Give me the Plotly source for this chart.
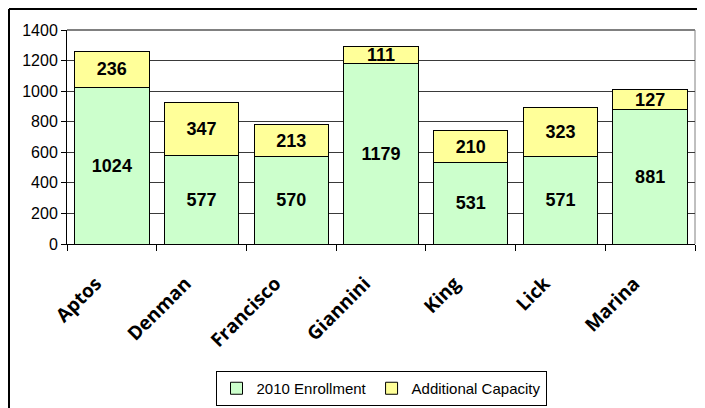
import plotly.graph_objects as go

schools = ["Aptos", "Denman", "Francisco", "Giannini", "King", "Lick", "Marina"]
enrollment_2010 = [1024, 577, 570, 1179, 531, 571, 881]
additional_capacity = [236, 347, 213, 111, 210, 323, 127]
y_ticks = [0, 200, 400, 600, 800, 1000, 1200, 1400]

# the page body adds an 8px offset; size the figure to fill the rest of the window
OFF = 8
W, H = 705 - OFF, 408 - OFF
L, R, T, B = 67 - OFF, 10, 30 - OFF, 164
PW, PH = W - L - R, H - T - B

bar_font = dict(family="Liberation Sans", size=18, color="black", weight="bold")

fig = go.Figure()
fig.add_trace(go.Bar(
    x=schools, y=enrollment_2010, name="2010 Enrollment",
    marker=dict(color="#CCFFCC", line=dict(color="black", width=1)),
    text=enrollment_2010, textposition="inside", insidetextanchor="middle",
    textfont=bar_font,
))
fig.add_trace(go.Bar(
    x=schools, y=additional_capacity, name="Additional Capacity",
    marker=dict(color="#FFFF99", line=dict(color="black", width=1)),
    text=additional_capacity, textposition="inside", insidetextanchor="middle",
    textfont=bar_font,
))

fig.update_layout(
    barmode="stack", bargap=0.17,
    width=W, height=H,
    margin=dict(l=L, r=R, t=T, b=B, autoexpand=False),
    plot_bgcolor="white", paper_bgcolor="white",
    font=dict(family="Liberation Sans", color="black"),
    uniformtext=dict(minsize=18, mode="show"),
    showlegend=True,
    legend=dict(
        orientation="h", x=0.5, xanchor="center", y=-127 / PH, yanchor="top",
        bordercolor="black", borderwidth=1, font=dict(size=15),
        traceorder="normal", itemwidth=30,
    ),
    yaxis=dict(
        range=[0, 1400], tickvals=y_ticks, showgrid=True, gridcolor="#3a3a3a", gridwidth=1,
        showline=True, linecolor="black", linewidth=1, ticks="outside", ticklen=5,
        tickcolor="black", tickfont=dict(size=16), zeroline=False, automargin=False,
    ),
    xaxis=dict(
        showline=True, linecolor="black", linewidth=1, ticks="outside", ticklen=6,
        tickcolor="black", tickson="boundaries", tickangle=-45, automargin=False,
        ticklabelstandoff=20, ticklabelshift=-16,
        tickfont=dict(family="Open Sans", size=19, weight="bold"),
    ),
    shapes=[
        dict(type="line", xref="x domain", yref="y domain", x0=1, x1=1, y0=0, y1=1,
             line=dict(color="#808080", width=1), layer="below"),
        dict(type="line", xref="x domain", yref="y domain", x0=0, x1=1, y0=1, y1=1,
             line=dict(color="#808080", width=2)),
        dict(type="line", xref="paper", yref="paper", x0=-(L - 1) / PW, x1=-(L - 1) / PW,
             y0=-B / PH, y1=1 + (T - 1) / PH, line=dict(color="black", width=2)),
        dict(type="line", xref="paper", yref="paper", x0=-(L - 1) / PW, x1=1 + R / PW,
             y0=1 + (T - 1) / PH, y1=1 + (T - 1) / PH, line=dict(color="black", width=2)),
    ],
)

fig.write_html("out.html")
